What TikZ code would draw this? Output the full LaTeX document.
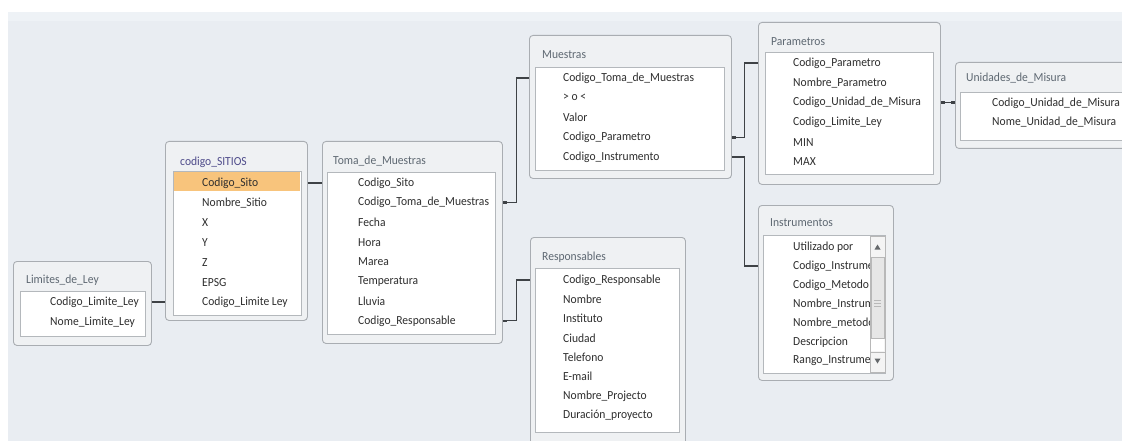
\documentclass[tikz,border=0pt]{standalone}
\usepackage{fontspec}
\setmainfont[FakeStretch=0.94]{Carlito}
\definecolor{pane}{HTML}{E9EDF2}
\definecolor{panetop}{HTML}{EEF2F6}
\definecolor{boxfill}{HTML}{EFF1F3}
\definecolor{boxline}{HTML}{A9ADB2}
\definecolor{innerline}{HTML}{B4B8BC}
\definecolor{ttlc}{HTML}{5E6872}
\definecolor{ttlsel}{HTML}{4E4B8A}
\definecolor{rowc}{HTML}{2E2E2E}
\definecolor{selrow}{HTML}{F8C47C}
\definecolor{connc}{HTML}{3E4246}
\definecolor{scrtrack}{HTML}{F4F4F4}
\definecolor{scrthumb}{HTML}{E6E6E6}
\definecolor{scrline}{HTML}{B8B8B8}
\begin{document}
\begin{tikzpicture}[x=1pt,y=-1pt,
  tbl/.style={draw=boxline, fill=boxfill, rounded corners=3.5pt, line width=0.9pt,
              inner sep=0pt, anchor=north west},
  inner/.style={draw=innerline, fill=white, line width=0.8pt, inner sep=0pt, anchor=north west},
  ttl/.style={anchor=west, inner sep=0pt, text=ttlc, font=\fontsize{12.3}{13}\selectfont},
  row/.style={anchor=west, inner sep=0pt, text=rowc, font=\fontsize{12.3}{13}\selectfont},
  conn/.style={draw=connc, line width=1.1pt},
  cend/.style={draw=connc, line width=2.6pt}]
\useasboundingbox (0,0) rectangle (1122,441);
\clip (0,0) rectangle (1122,441);

% canvas
\fill[white] (0,0) rectangle (1122,441);
\fill[pane] (8,12) rectangle (1122,441);
\fill[panetop] (8,12) rectangle (1122,21);

% ---------- Limites_de_Ley ----------
\node[tbl, minimum width=138, minimum height=84] (lim) at (13,261) {};
\node[inner, minimum width=125, minimum height=45] (limi) at (20,291) {};
\node[ttl] (lim-t) at (26,280) {Limites\_de\_Ley};
\foreach \t [count=\i] in {Codigo\_Limite\_Ley, Nome\_Limite\_Ley}
  \node[row] (lim-\i) at (50,{302+20*(\i-1)}) {\t};

% ---------- codigo_SITIOS ----------
\node[tbl, minimum width=142, minimum height=179] (sit) at (165,141) {};
\node[inner, minimum width=128, minimum height=144] (siti) at (173,171) {};
\fill[selrow] (174,172) rectangle (300,191);
\node[ttl, text=ttlsel] (sit-t) at (180,162) {codigo\_SITIOS};
\foreach \t [count=\i] in {Codigo\_Sito, Nombre\_Sitio, X, Y, Z, EPSG, Codigo\_Limite Ley}
  \node[row] (sit-\i) at (202,{183+19.83*(\i-1)}) {\t};

% ---------- Toma_de_Muestras ----------
\node[tbl, minimum width=180, minimum height=202] (tom) at (322,141) {};
\node[inner, minimum width=168, minimum height=162] (tomi) at (327,172) {};
\node[ttl] (tom-t) at (333,161) {Toma\_de\_Muestras};
\foreach \t [count=\i] in {Codigo\_Sito, Codigo\_Toma\_de\_Muestras, Fecha, Hora, Marea,
    Temperatura, Lluvia, Codigo\_Responsable}
  \node[row] (tom-\i) at (358,{183+19.7*(\i-1)}) {\t};

% ---------- Muestras ----------
\node[tbl, minimum width=202, minimum height=143] (mue) at (529,35) {};
\node[inner, minimum width=189, minimum height=103] (muei) at (535,67) {};
\node[ttl] (mue-t) at (542,55) {Muestras};
\foreach \t [count=\i] in {Codigo\_Toma\_de\_Muestras, > o <, Valor, Codigo\_Parametro,
    Codigo\_Instrumento}
  \node[row] (mue-\i) at (563,{78+19.75*(\i-1)}) {\t};

% ---------- Parametros ----------
\node[tbl, minimum width=182, minimum height=162] (par) at (758,22) {};
\node[inner, minimum width=168, minimum height=122] (pari) at (765,52) {};
\node[ttl] (par-t) at (771,42) {Parametros};
\foreach \t [count=\i] in {Codigo\_Parametro, Nombre\_Parametro, Codigo\_Unidad\_de\_Misura,
    Codigo\_Limite\_Ley, MIN, MAX}
  \node[row] (par-\i) at (793,{63+19.8*(\i-1)}) {\t};

% ---------- Unidades_de_Misura ----------
\node[tbl, minimum width=175, minimum height=86] (uni) at (955,62) {};
\node[inner, minimum width=165, minimum height=48] (unii) at (960,92) {};
\node[ttl] (uni-t) at (966,78) {Unidades\_de\_Misura};
\foreach \t [count=\i] in {Codigo\_Unidad\_de\_Misura, Nome\_Unidad\_de\_Misura}
  \node[row] (uni-\i) at (992,{103+19*(\i-1)}) {\t};

% ---------- Responsables ----------
\node[tbl, minimum width=155, minimum height=215] (res) at (530,237) {};
\node[inner, minimum width=144, minimum height=164] (resi) at (535,268) {};
\node[ttl] (res-t) at (542,257) {Responsables};
\foreach \t [count=\i] in {Codigo\_Responsable, Nombre, Instituto, Ciudad, Telefono, E-mail,
    Nombre\_Projecto, Duración\_proyecto}
  \node[row] (res-\i) at (563,{280+19.3*(\i-1)}) {\t};

% ---------- Instrumentos ----------
\node[tbl, minimum width=135, minimum height=175] (ins) at (758,205) {};
\node[inner, minimum width=122, minimum height=138] (insi) at (763,235) {};
\node[ttl] (ins-t) at (770,223) {Instrumentos};
\begin{scope}
  \clip (763,236) rectangle (870,372);
  \foreach \t [count=\i] in {Utilizado por, Codigo\_Instrumento, Codigo\_Metodo,
      Nombre\_Instrumento, Nombre\_metodo, Descripcion, Rango\_Instrumento}
    \node[row] (ins-\i) at (793,{247+19*(\i-1)}) {\t};
\end{scope}
% scroll bar
\draw[scrline, fill=scrtrack, line width=0.6pt] (870,236) rectangle (885,372);
\draw[scrline, fill=scrthumb, line width=0.6pt] (871,257) rectangle (884,338);
\draw[scrline, line width=0.6pt] (870,257) -- (885,257) (870,352) -- (885,352);
\fill[white] (871,339) rectangle (884,351);
\foreach \yy in {300,303,306}
  \draw[scrline, line width=0.6pt] (874,\yy) -- (881,\yy);
\fill[connc!80] (874.5,249.5) -- (880.5,249.5) -- (877.5,244.5) -- cycle;
\fill[connc!80] (874.5,358.5) -- (880.5,358.5) -- (877.5,363.5) -- cycle;

% ---------- relations ----------
\draw[conn] (lim.east |- lim-1) -- (sit.west |- lim-1);
\draw[cend] (lim.east |- lim-1) -- ++(4,0);
\draw[cend] (sit.west |- lim-1) -- ++(-4,0);

\draw[conn] (sit.east |- sit-1) -- (tom.west |- sit-1);
\draw[cend] (sit.east |- sit-1) -- ++(4,0);
\draw[cend] (tom.west |- sit-1) -- ++(-4,0);

\draw[conn] (tom.east |- tom-2) -- ++(14,0) |- (mue.west |- mue-1);
\draw[cend] (tom.east |- tom-2) -- ++(4,0);
\draw[cend] (mue.west |- mue-1) -- ++(-4,0);

\draw[conn] (tom.east |- tom-8) -- ++(14,0) |- (res.west |- res-1);
\draw[cend] (tom.east |- tom-8) -- ++(4,0);
\draw[cend] (res.west |- res-1) -- ++(-4,0);

\draw[conn] (mue.east |- mue-4) -- ++(13,0) |- (par.west |- par-1);
\draw[cend] (mue.east |- mue-4) -- ++(4,0);
\draw[cend] (par.west |- par-1) -- ++(-4,0);

\draw[conn] (mue.east |- mue-5) -- ++(13,0) |- (ins.west |- ins-2);
\draw[cend] (mue.east |- mue-5) -- ++(4,0);
\draw[cend] (ins.west |- ins-2) -- ++(-4,0);

\draw[conn] (par.east |- par-3) -- (uni.west |- par-3);
\draw[cend] (par.east |- par-3) -- ++(4,0);
\draw[cend] (uni.west |- par-3) -- ++(-4,0);
\end{tikzpicture}
\end{document}
